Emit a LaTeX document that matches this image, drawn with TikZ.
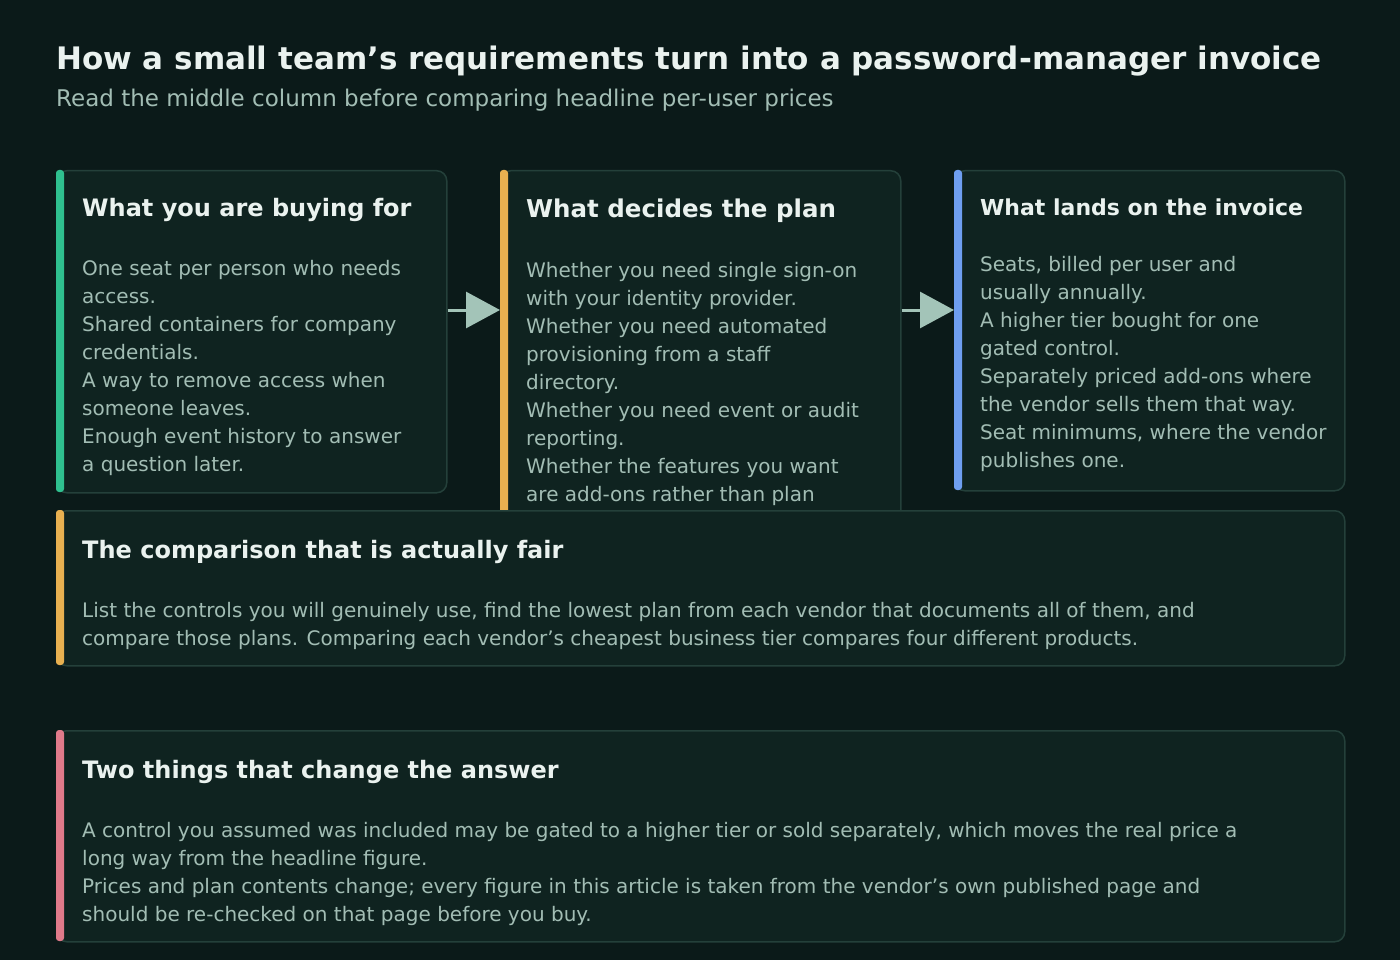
\documentclass[tikz,border=0pt]{standalone}
\usepackage{fontspec}
\setmainfont{DejaVu Sans}
\usetikzlibrary{arrows.meta}
\definecolor{bg}{HTML}{0B1A19}
\definecolor{cardbg}{HTML}{0F2320}
\definecolor{cardln}{HTML}{24403A}
\definecolor{headc}{HTML}{EAF2EF}
\definecolor{bodyc}{HTML}{A2BDB4}
\definecolor{arrc}{HTML}{A3C4B8}
\definecolor{accg}{HTML}{2FC08F}
\definecolor{acco}{HTML}{E8B050}
\definecolor{accb}{HTML}{6E9EF0}
\definecolor{accp}{HTML}{E07A8A}
\newcommand{\apo}{{\char39}}
\begin{document}
\begin{tikzpicture}[x=1pt,y=-1pt,
  card/.style={draw=cardln,fill=cardbg,line width=1.5pt,rounded corners=10pt,anchor=north west,inner sep=0pt},
  bar/.style={rounded corners=3pt},
  head/.style={text=headc,font=\bfseries\fontsize{24}{28}\selectfont,anchor=base west,inner sep=0pt},
  body/.style={text=bodyc,font=\fontsize{20}{28}\selectfont,anchor=base west,inner sep=0pt},
  arr/.style={draw=arrc,line width=3pt,-{Triangle[length=34pt,width=36pt]}}]
\fill[bg] (0,0) rectangle (1400,960);
\useasboundingbox (0,0) rectangle (1400,960);
\node[text=headc,font=\bfseries\fontsize{31}{36}\selectfont,anchor=base west,inner sep=0pt] (title) at (56,70) {How a small team\apo s requirements turn into a password-manager invoice};
\node[text=bodyc,font=\fontsize{23}{28}\selectfont,anchor=base west,inner sep=0pt] (sub) at (56,107) {Read the middle column before comparing headline per-user prices};
% cards
\node[card,minimum width=390pt,minimum height=322pt] (c1) at (56,170) {};
\node[card,minimum width=400pt,minimum height=360pt] (c2) at (500,170) {};
\node[card,minimum width=390pt,minimum height=320pt] (c3) at (954,170) {};
\fill[accg,bar] (56,170) rectangle (64,492);
\fill[acco,bar] (500,170) rectangle (508,530);
\fill[accb,bar] (954,170) rectangle (962,490);
\draw[arr] ([yshift=-140pt]c1.north east) -- ([yshift=-140pt]c2.north west);
\draw[arr] ([yshift=-140pt]c2.north east) -- ([yshift=-140pt]c3.north west);
\node[head] (h1) at (82,217) {What you are buying for};
\foreach \t [count=\i] in {One seat per person who needs,access.,Shared containers for company,credentials.,A way to remove access when,someone leaves.,Enough event history to answer,a question later.}
  \node[body] (a\i) at (82,{275+28*(\i-1)}) {\t};
\node[head,font=\bfseries\fontsize{24.5}{28}\selectfont] (h2) at (526,218) {What decides the plan};
\foreach \t [count=\i] in {Whether you need single sign-on,with your identity provider.,Whether you need automated,provisioning from a staff,directory.,Whether you need event or audit,reporting.,Whether the features you want,are add-ons rather than plan}
  \node[body] (b\i) at (526,{277+28*(\i-1)}) {\t};
\node[head,font=\bfseries\fontsize{22}{26}\selectfont] (h3) at (980,215) {What lands on the invoice};
\foreach \t [count=\i] in {{Seats, billed per user and},usually annually.,A higher tier bought for one,gated control.,Separately priced add-ons where,the vendor sells them that way.,{Seat minimums, where the vendor},publishes one.}
  \node[body] (d\i) at (980,{271+28*(\i-1)}) {\t};
% comparison
\node[card,minimum width=1288pt,minimum height=155pt] (c4) at (56,510) {};
\fill[acco,bar] (56,510) rectangle (64,665);
\node[head] (h4) at (82,558) {The comparison that is actually fair};
\node[body] (e1) at (82,617) {List the controls you will genuinely use, find the lowest plan from each vendor that documents all of them, and};
\node[body] (e2) at (82,645) {compare those plans. Comparing each vendor\apo s cheapest business tier compares four different products.};
% bottom
\node[card,minimum width=1288pt,minimum height=211pt] (c5) at (56,730) {};
\fill[accp,bar] (56,730) rectangle (64,941);
\node[head] (h5) at (82,778) {Two things that change the answer};
\foreach \t [count=\i] in {{A control you assumed was included may be gated to a higher tier or sold separately, which moves the real price a},long way from the headline figure.,{Prices and plan contents change; every figure in this article is taken from the vendor\apo s own published page and},should be re-checked on that page before you buy.}
  \node[body] (f\i) at (82,{837+28*(\i-1)}) {\t};
\end{tikzpicture}
\end{document}
